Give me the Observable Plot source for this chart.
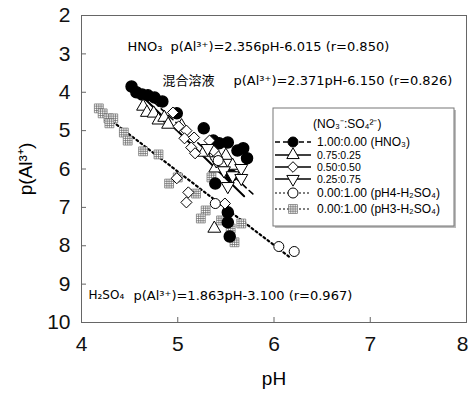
<!DOCTYPE html>
<html><head><meta charset="utf-8">
<script src="https://cdn.jsdelivr.net/npm/d3@7"></script>
<script src="https://cdn.jsdelivr.net/npm/@observablehq/plot@0.6"></script>
<style>body{margin:0;background:#fff} svg{overflow:visible}</style>
</head><body><div id="chart"></div>
<script>
// ---- data (pH, p(Al3+)) ----
const hno3PH = [4.52,4.57,4.63,4.69,4.76,4.84,4.99,5.27,5.37,5.43,5.52,5.62,5.68,5.72,5.39,5.56,5.52,5.52,5.54];
const hno3P  = [3.85,4.00,4.06,4.08,4.14,4.24,4.55,4.94,5.26,5.33,5.31,5.52,5.46,5.72,6.38,6.17,7.13,7.39,7.76];
const r75PH = [4.64,4.68,4.75,4.80,4.86,4.90,5.04,5.27,5.41,5.50,5.45,5.57,5.39,5.38];
const r75P  = [4.37,4.53,4.55,4.73,4.66,4.84,4.88,5.57,5.65,5.65,5.85,5.91,5.98,7.55];
const r50PH = [4.95,5.01,5.09,5.07,5.17,5.14,5.18,5.33,5.37,4.99,5.11,5.09,5.49];
const r50P  = [4.53,4.89,5.00,5.20,5.18,5.44,5.59,5.26,5.52,6.24,6.61,6.87,6.90];
const r25PH = [5.31,5.40,5.48,5.57,5.66,5.52,5.66];
const r25P  = [5.46,5.78,6.04,6.17,5.98,6.45,6.24];
const pH4PH = [5.42,5.39,6.05,6.21];
const pH4P  = [5.78,6.90,8.02,8.15];
const pH3PH = [4.18,4.22,4.28,4.33,4.29,4.44,4.48,4.64,4.80,4.91,5.00,5.19,5.29,5.24,5.35,5.45,5.55,5.66,5.59];
const pH3P  = [4.42,4.55,4.68,4.68,4.81,5.05,5.26,5.54,5.62,6.38,6.22,6.64,7.08,7.29,6.22,7.34,7.55,7.42,7.91];

// regression lines as drawn (endpoints)
const hno3LinePH = [4.60,5.78], hno3LineP = [3.90,6.65];
const mixLinePH  = [4.62,5.69], mixLineP  = [4.08,6.71];
const h2so4LinePH = [4.20,6.18], h2so4LineP = [4.53,8.33];

const xTicks = [4,5,6,7];
const xTickLast = [8];
const yTicks = [2,3,4,5,6,7,8,9,10];

const annHNO3 = ["HNO₃", "p(Al³⁺)=2.356pH-6.015 (r=0.850)"];
const annMix  = ["混合溶液", "p(Al³⁺)=2.371pH-6.150 (r=0.826)"];
const annH2SO4 = ["H₂SO₄", "p(Al³⁺)=1.863pH-3.100 (r=0.967)"];

const legendTitle = "(NO₃⁻:SO₄²⁻)";
const legendLabels = ["1.00:0.00 (HNO₃)","0.75:0.25","0.50:0.50","0.25:0.75","0.00:1.00 (pH4-H₂SO₄)","0.00:1.00 (pH3-H₂SO₄)"];

// ---- helpers ----
const rows = (xs, ys) => xs.map((x, i) => ({x, y: ys[i]}));
const F = "'Liberation Sans',Arial,sans-serif";
const FA = "'DejaVu Sans',sans-serif";
const FJ = "'Noto Sans CJK JP',sans-serif";
const gridSquare = {draw(ctx, size) {
  const h = Math.sqrt(size) / 2;
  ctx.moveTo(-h,-h); ctx.lineTo(h,-h); ctx.lineTo(h,h); ctx.lineTo(-h,h); ctx.closePath();
  for (const t of [-h/2, 0, h/2]) { ctx.moveTo(t,-h); ctx.lineTo(t,h); ctx.moveTo(-h,t); ctx.lineTo(h,t); }
}};
const tickText = {tickSize: 0, tickFormat: d3.format("d"), fontSize: 21, fontFamily: F, label: null, fill: "#111"};

const plot = Plot.plot({
  width: 469, height: 394,
  marginLeft: 81, marginRight: 3, marginTop: 15, marginBottom: 72,
  x: {domain: [4, 8]},
  y: {domain: [2, 10], reverse: true},
  marks: [
    Plot.frame({stroke: "#666"}),
    Plot.axisX({ticks: [...xTicks, ...xTickLast], tickSize: 5, dy: -5, tickFormat: () => "", label: null, stroke: "#666"}),
    Plot.axisY({ticks: yTicks, tickSize: 5, dx: 5, tickFormat: () => "", label: null, stroke: "#666"}),
    Plot.axisX({...tickText, ticks: xTicks, tickPadding: 14}),
    Plot.axisX({...tickText, ticks: xTickLast, tickPadding: 14, dx: -4}),
    Plot.axisY({...tickText, ticks: yTicks, tickPadding: 11}),
    Plot.text(["pH"], {frameAnchor: "bottom", dy: 56, fontSize: 19, fontFamily: F, lineAnchor: "middle"}),
    Plot.text(["p(Al³⁺)"], {frameAnchor: "left", dx: -56, rotate: -90, fontSize: 19, fontFamily: F, lineAnchor: "middle", textAnchor: "middle"}),
    // lines
    Plot.line(rows(h2so4LinePH, h2so4LineP), {x: "x", y: "y", stroke: "#000", strokeWidth: 2.2, strokeDasharray: "2,3"}),
    Plot.line(rows(hno3LinePH, hno3LineP), {x: "x", y: "y", stroke: "#000", strokeWidth: 1.6, strokeDasharray: "6,4"}),
    Plot.line(rows(mixLinePH, mixLineP), {x: "x", y: "y", stroke: "#000", strokeWidth: 2}),
    // points
    Plot.dot(rows(pH3PH, pH3P), {x: "x", y: "y", symbol: gridSquare, r: 5, fill: "#fff", stroke: "#666", strokeWidth: 0.7}),
    Plot.dot(rows(hno3PH, hno3P), {x: "x", y: "y", r: 5.5, fill: "#000", stroke: "#000"}),
    Plot.dot(rows(r75PH, r75P), {x: "x", y: "y", symbol: "triangle", r: 4.8, fill: "#fff", stroke: "#000", strokeWidth: 1}),
    Plot.dot(rows(r50PH, r50P), {x: "x", y: "y", symbol: "diamond2", r: 5, fill: "#fff", stroke: "#000", strokeWidth: 1}),
    Plot.dot(rows(r25PH, r25P), {x: "x", y: "y", symbol: "triangle", rotate: 180, r: 4.8, fill: "#fff", stroke: "#000", strokeWidth: 1}),
    Plot.dot(rows(pH4PH, pH4P), {x: "x", y: "y", r: 5, fill: "#fff", stroke: "#000", strokeWidth: 1}),
    // annotations
    Plot.text([annHNO3[0]], {frameAnchor: "top-left", dx: 46, dy: 31, fontSize: 13, fontFamily: FA, textAnchor: "start", lineAnchor: "middle"}),
    Plot.text([annHNO3[1]], {frameAnchor: "top-left", dx: 89, dy: 31, fontSize: 13, fontFamily: FA, textAnchor: "start", lineAnchor: "middle"}),
    Plot.text([annMix[0]], {frameAnchor: "top-left", dx: 81, dy: 65, fontSize: 13, fontFamily: FJ, textAnchor: "start", lineAnchor: "middle"}),
    Plot.text([annMix[1]], {frameAnchor: "top-left", dx: 152, dy: 65, fontSize: 13, fontFamily: FA, textAnchor: "start", lineAnchor: "middle"}),
    Plot.text([annH2SO4[0]], {frameAnchor: "top-left", dx: 7, dy: 280, fontSize: 12, fontFamily: FA, textAnchor: "start", lineAnchor: "middle"}),
    Plot.text([annH2SO4[1]], {frameAnchor: "top-left", dx: 52, dy: 280, fontSize: 13, fontFamily: FA, textAnchor: "start", lineAnchor: "middle"})
  ]
});

// ---- legend (decoration, pixel layout) ----
const svg = d3.select(plot);
const g = svg.append("g").attr("font-family", F).attr("font-size", 12).attr("text-anchor", "start");
g.append("rect").attr("x", 275).attr("y", 110).attr("width", 181).attr("height", 118).attr("fill", "#bbb");
g.append("rect").attr("x", 273).attr("y", 108).attr("width", 181).attr("height", 118).attr("fill", "#fff").attr("stroke", "#777");
g.append("text").attr("x", 313).attr("y", 124).attr("dy", "0.35em").text(legendTitle);
const rowY = [142, 155, 167, 179, 193, 209];
const rowFont = [12, 10.5, 10.5, 10.5, 12, 12];
const dashes = ["5,3", null, null, null, "2,2", "2,2"];
const syms = [
  {type: d3.symbolCircle, r: 5, fill: "#000", stroke: "#000", rot: 0},
  {type: d3.symbolTriangle, r: 4.6, fill: "#fff", stroke: "#000", rot: 0},
  {type: d3.symbolDiamond2, r: 4.8, fill: "#fff", stroke: "#000", rot: 0},
  {type: d3.symbolTriangle, r: 4.6, fill: "#fff", stroke: "#000", rot: 180},
  {type: d3.symbolCircle, r: 5, fill: "#fff", stroke: "#000", rot: 0},
  {type: gridSquare, r: 5, fill: "#fff", stroke: "#666", rot: 0}
];
legendLabels.forEach((lab, i) => {
  const y = rowY[i];
  g.append("line").attr("x1", 275).attr("x2", 311).attr("y1", y).attr("y2", y)
    .attr("stroke", "#000").attr("stroke-width", i < 4 ? 1.4 : 1.2).attr("stroke-dasharray", dashes[i]);
  const s = syms[i];
  g.append("path").attr("d", d3.symbol(s.type, Math.PI * s.r * s.r)())
    .attr("transform", `translate(293,${y}) rotate(${s.rot})`)
    .attr("fill", s.fill).attr("stroke", s.stroke).attr("stroke-width", i === 5 ? 0.7 : 1);
  g.append("text").attr("x", 317).attr("y", y).attr("dy", "0.35em").attr("font-size", rowFont[i]).text(lab);
});

document.getElementById("chart").appendChild(plot);
</script></body></html>
